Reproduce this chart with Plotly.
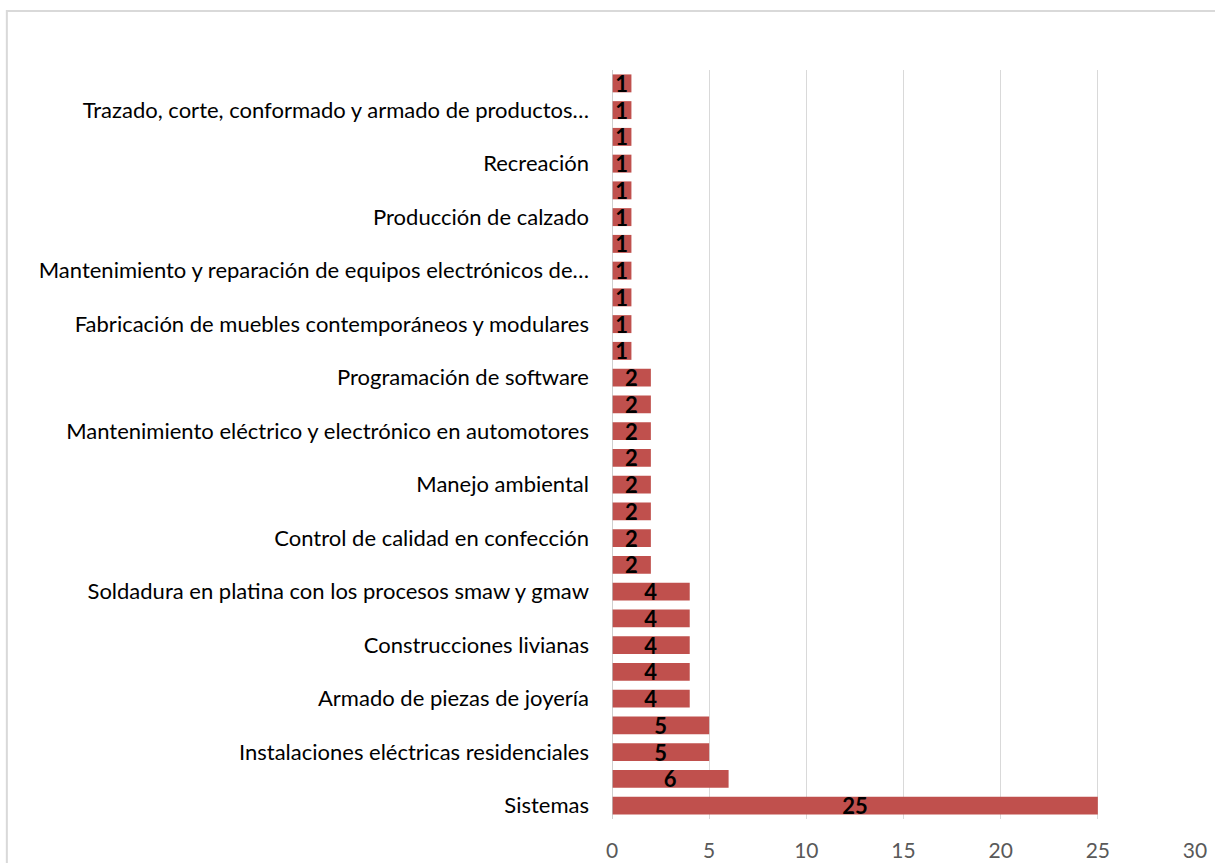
import plotly.graph_objects as go

# Values from bottom (index 0) to top (index 27)
values = [25, 6, 5, 5, 4, 4, 4, 4, 4, 2, 2, 2, 2, 2, 2, 2, 2,
          1, 1, 1, 1, 1, 1, 1, 1, 1, 1, 1]
# Only every other category label is displayed in the original chart
label_positions = [0, 2, 4, 6, 8, 10, 12, 14, 16, 18, 20, 22, 24, 26]
label_texts = [
    "Sistemas",
    "Instalaciones eléctricas residenciales",
    "Armado de piezas de joyería",
    "Construcciones livianas",
    "Soldadura en platina con los procesos smaw y gmaw",
    "Control de calidad en confección",
    "Manejo ambiental",
    "Mantenimiento eléctrico y electrónico en automotores",
    "Programación de software",
    "Fabricación de muebles contemporáneos y modulares",
    "Mantenimiento y reparación de equipos electrónicos de…",
    "Producción de calzado",
    "Recreación",
    "Trazado, corte, conformado y armado de productos…",
]
x_ticks = [0, 5, 10, 15, 20, 25, 30]

positions = list(range(len(values)))

FONT = "Lato"

fig = go.Figure()
fig.add_trace(go.Bar(
    x=values,
    y=positions,
    orientation="h",
    marker=dict(color="#c0504d", line=dict(width=0)),
    text=[str(v) for v in values],
    textposition="inside",
    insidetextanchor="middle",
    textangle=0,
    textfont=dict(family=FONT, size=22, color="#000000", weight="bold"),
    hoverinfo="x+y",
))

fig.update_layout(
    width=1215, height=863,
    margin=dict(l=612, r=20, t=70, b=44),
    paper_bgcolor="white",
    plot_bgcolor="white",
    showlegend=False,
    bargap=0.33,
    uniformtext=dict(minsize=22, mode="show"),
    font=dict(family=FONT, size=22, color="#000000"),
    xaxis=dict(
        range=[0, 30],
        tickvals=x_ticks,
        ticktext=[str(t) for t in x_ticks],
        showgrid=True,
        gridcolor="#d9d9d9",
        gridwidth=1,
        zeroline=False,
        showline=False,
        tickfont=dict(family=FONT, size=21, color="#595959"),
        ticks="",
        ticklabelstandoff=17,
        automargin=False,
        fixedrange=True,
    ),
    yaxis=dict(
        range=[-0.5, 27.5],
        tickvals=label_positions,
        ticktext=label_texts,
        showgrid=False,
        zeroline=False,
        showline=False,
        ticks="",
        ticklabelstandoff=22,
        automargin=False,
        tickfont=dict(family=FONT, size=22, color="#000000"),
        fixedrange=True,
    ),
    shapes=[
        # vertical axis line at x = 0
        dict(type="line", xref="x", yref="paper", x0=0, x1=0, y0=0, y1=1,
             line=dict(color="#bfbfbf", width=1.5), layer="above"),
        # outer chart border
        dict(type="rect", xref="paper", yref="paper",
             x0=-1.038, x1=1.2, y0=-0.2, y1=1.0788,
             line=dict(color="#d9d9d9", width=2), fillcolor="rgba(0,0,0,0)",
             layer="below"),
    ],
)

fig.write_html("out.html")
